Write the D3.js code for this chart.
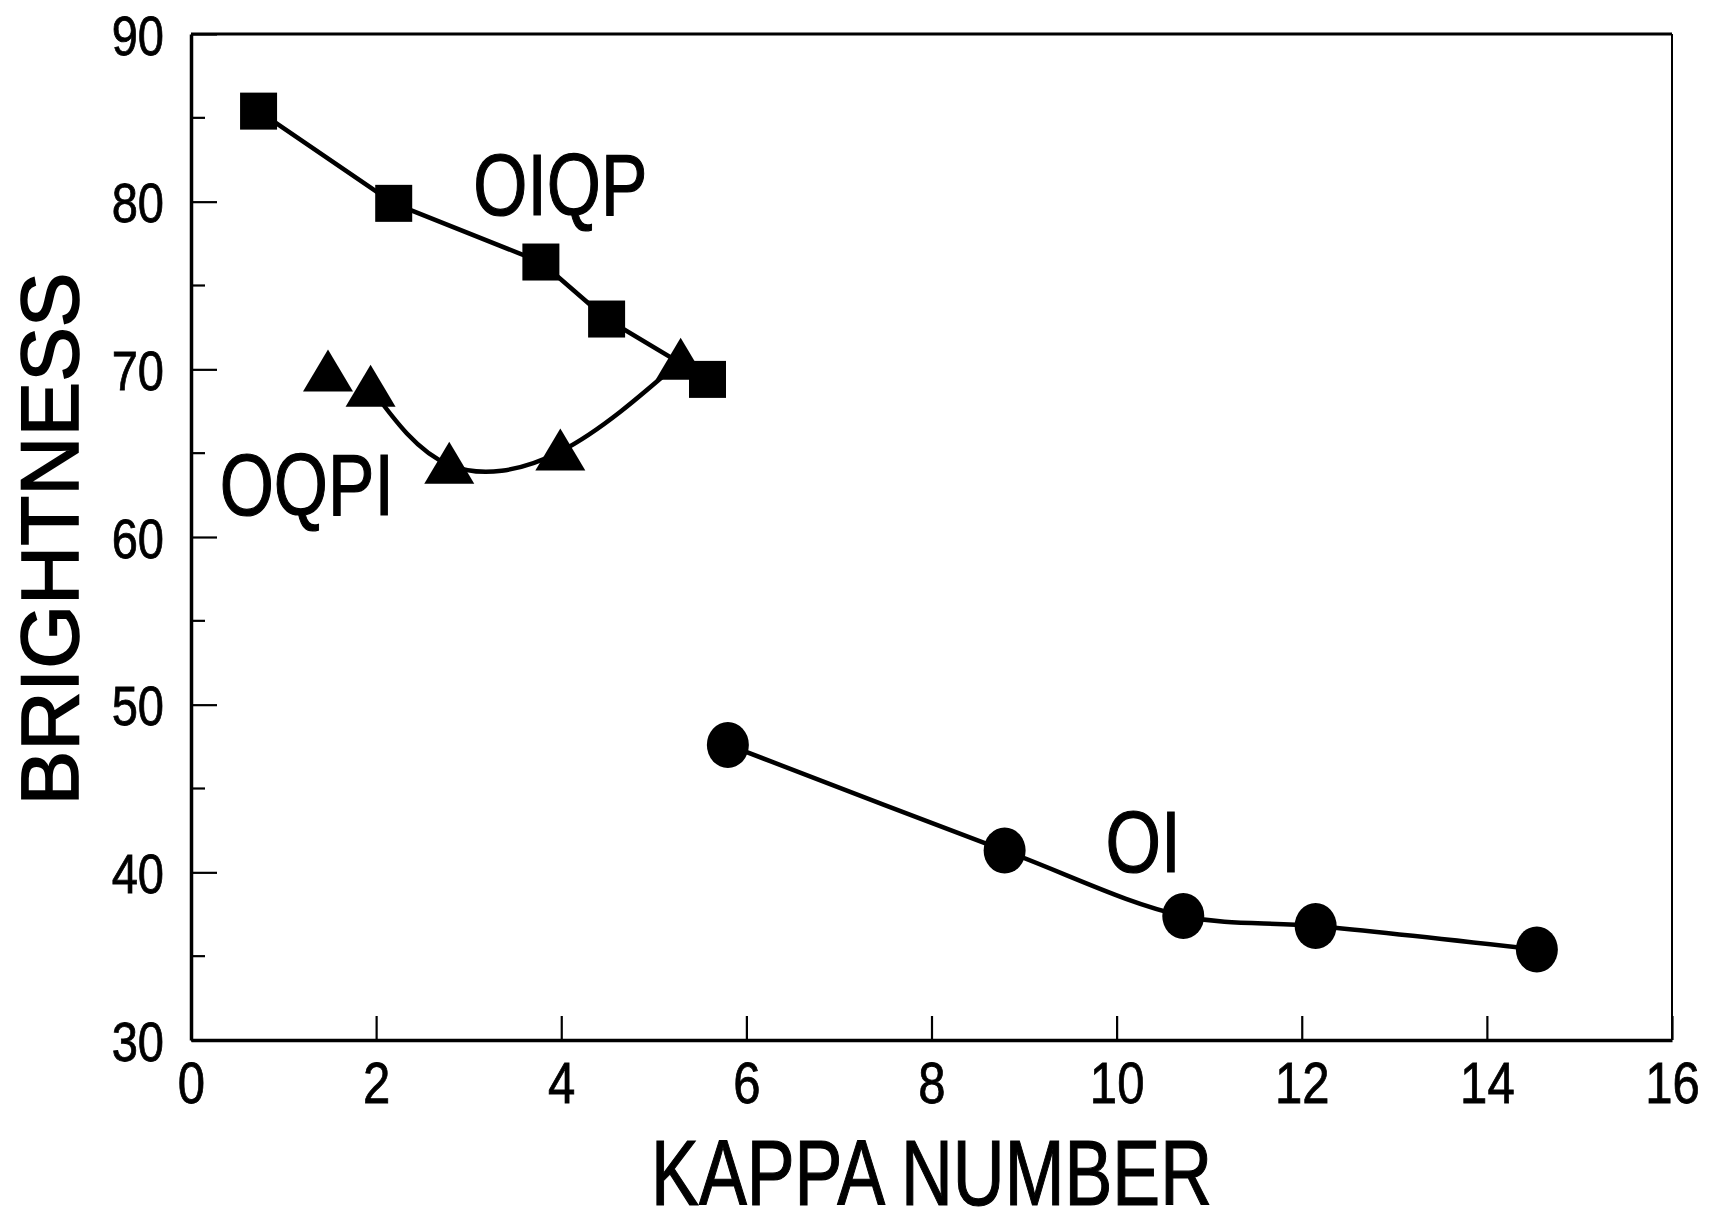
<!DOCTYPE html>
<html>
<head>
<meta charset="utf-8">
<script src="https://cdn.jsdelivr.net/npm/d3@7"></script>
<style>
  html, body { margin: 0; padding: 0; background: #fff; }
  svg { display: block; }
  text { font-family: "Liberation Sans", Arial, Helvetica, sans-serif; fill: #000; }
</style>
</head>
<body>
<svg id="chart" width="1709" height="1212"></svg>
<script>
// Brightness versus kappa number for three bleaching sequences
const oiqpKappa = [0.73, 2.19, 3.78, 4.49, 5.58];
const oiqpBright = [85.4, 79.9, 76.4, 73.0, 69.4];

const oqpiKappa = [1.48, 1.94, 2.79, 3.99, 5.29];
const oqpiBright = [69.8, 68.9, 64.3, 65.1, 70.5];

const oiKappa = [5.80, 8.79, 10.72, 12.15, 14.54];
const oiBright = [47.6, 41.3, 37.4, 36.8, 35.4];

const xTicks = [0, 2, 4, 6, 8, 10, 12, 14, 16];
const yTicks = [30, 40, 50, 60, 70, 80, 90];
const yMinorTicks = [35, 45, 55, 65, 75, 85];

// Series labels: name, kappa and brightness of the label's baseline start
const labelNames = ["OIQP", "OQPI", "OI"];
const labelKappa = [3.05, 0.31, 9.88];
const labelBright = [79.2, 61.3, 40.0];

const xTitle = "KAPPA NUMBER";
const yTitle = "BRIGHTNESS";

(function draw() {
  const svg = d3.select("#chart");
  const plotLeft = 191, plotRight = 1672, plotTop = 34, plotBottom = 1040;

  const x = d3.scaleLinear().domain([0, 16]).range([plotLeft, plotRight]);
  const y = d3.scaleLinear().domain([30, 90]).range([plotBottom, plotTop]);

  // condense a text element horizontally, keeping its anchor
  function condense(sel, factor) {
    sel.each(function () {
      const w = this.getComputedTextLength();
      d3.select(this).attr("textLength", w * factor).attr("lengthAdjust", "spacingAndGlyphs");
    });
  }

  // frame: thin top and right edges
  svg.append("line").attr("x1", plotLeft).attr("x2", plotRight).attr("y1", plotTop).attr("y2", plotTop)
    .attr("stroke", "#000").attr("stroke-width", 3);
  svg.append("line").attr("x1", plotRight).attr("x2", plotRight).attr("y1", plotTop).attr("y2", plotBottom)
    .attr("stroke", "#000").attr("stroke-width", 2);

  // bottom axis with inward ticks
  const xAxis = svg.append("g").attr("transform", `translate(0,${plotBottom})`)
    .call(d3.axisBottom(x).tickValues(xTicks).tickSize(-24).tickPadding(0).tickSizeOuter(0));
  xAxis.select(".domain").attr("stroke", "#000").attr("stroke-width", 3.5);
  xAxis.selectAll(".tick line").attr("stroke", "#000").attr("stroke-width", 2.2);
  xAxis.selectAll(".tick text")
    .attr("y", 63).attr("dy", 0)
    .style("font-size", "57px")
    .attr("stroke", "#000").attr("stroke-width", 0.8)
    .attr("text-anchor", "middle")
    .call(condense, 0.86);

  // left axis with inward major and minor ticks
  const yAxis = svg.append("g").attr("transform", `translate(${plotLeft},0)`)
    .call(d3.axisLeft(y).tickValues(yTicks).tickSize(-26).tickPadding(0).tickSizeOuter(0));
  yAxis.select(".domain").attr("stroke", "#000").attr("stroke-width", 3.5);
  yAxis.selectAll(".tick line").attr("stroke", "#000").attr("stroke-width", 2.2);
  yAxis.selectAll(".tick text")
    .attr("x", -27).attr("dy", "0.36em")
    .style("font-size", "56px")
    .attr("stroke", "#000").attr("stroke-width", 0.8)
    .attr("text-anchor", "end")
    .call(condense, 0.84);

  svg.append("g").selectAll("line").data(yMinorTicks).join("line")
    .attr("x1", plotLeft).attr("x2", plotLeft + 14)
    .attr("y1", d => y(d)).attr("y2", d => y(d))
    .attr("stroke", "#000").attr("stroke-width", 2.2);

  // axis titles
  svg.append("text")
    .attr("x", (plotLeft + plotRight) / 2).attr("y", 1205)
    .attr("text-anchor", "middle")
    .style("font-size", "92px")
    .attr("stroke", "#000").attr("stroke-width", 1.2)
    .text(xTitle)
    .call(condense, 0.78);

  svg.append("text")
    .attr("transform", `translate(${plotLeft - 113},${(plotTop + plotBottom) / 2 + 2}) rotate(-90)`)
    .attr("text-anchor", "middle")
    .style("font-size", "82px")
    .attr("stroke", "#000").attr("stroke-width", 1.6)
    .text(yTitle)
    .call(condense, 1.0);

  // connecting lines
  const toPts = (xs, ys) => xs.map((k, i) => [k, ys[i]]);
  const oiqpPts = toPts(oiqpKappa, oiqpBright);
  const oqpiPts = toPts(oqpiKappa, oqpiBright);
  const oiPts = toPts(oiKappa, oiBright);

  const lineStraight = d3.line().x(d => x(d[0])).y(d => y(d[1]));
  const lineSmooth = d3.line().x(d => x(d[0])).y(d => y(d[1])).curve(d3.curveNatural);
  const lineSoft = d3.line().x(d => x(d[0])).y(d => y(d[1])).curve(d3.curveCatmullRom.alpha(0.5));

  const lines = svg.append("g").attr("fill", "none").attr("stroke", "#000")
    .attr("stroke-width", 4.5).attr("stroke-linejoin", "round");
  lines.append("path").attr("d", lineStraight(oiqpPts));
  lines.append("path").attr("d", lineSmooth(oqpiPts.slice(1)));
  lines.append("path").attr("d", lineSoft(oiPts));

  // markers
  const sq = 37;
  svg.append("g").selectAll("rect").data(oiqpPts).join("rect")
    .attr("x", d => x(d[0]) - sq / 2).attr("y", d => y(d[1]) - sq / 2)
    .attr("width", sq).attr("height", sq).attr("fill", "#000");

  const tw = 50, th = 42;
  svg.append("g").selectAll("path").data(oqpiPts).join("path")
    .attr("d", d => {
      const cx = x(d[0]), cy = y(d[1]);
      return `M${cx},${cy - th * 0.55}L${cx + tw / 2},${cy + th * 0.45}L${cx - tw / 2},${cy + th * 0.45}Z`;
    })
    .attr("fill", "#000");

  svg.append("g").selectAll("ellipse").data(oiPts).join("ellipse")
    .attr("cx", d => x(d[0])).attr("cy", d => y(d[1]))
    .attr("rx", 21).attr("ry", 23).attr("fill", "#000");

  // series labels
  const labelWidthFactor = [0.8, 0.8, 0.82];
  svg.append("g").selectAll("text").data(labelNames).join("text")
    .attr("x", (d, i) => x(labelKappa[i]))
    .attr("y", (d, i) => y(labelBright[i]))
    .style("font-size", "87px")
    .attr("stroke", "#000").attr("stroke-width", 1.2)
    .text(d => d)
    .each(function (d, i) {
      const w = this.getComputedTextLength();
      d3.select(this).attr("textLength", w * labelWidthFactor[i]).attr("lengthAdjust", "spacingAndGlyphs");
    });
})();
</script>
</body>
</html>
